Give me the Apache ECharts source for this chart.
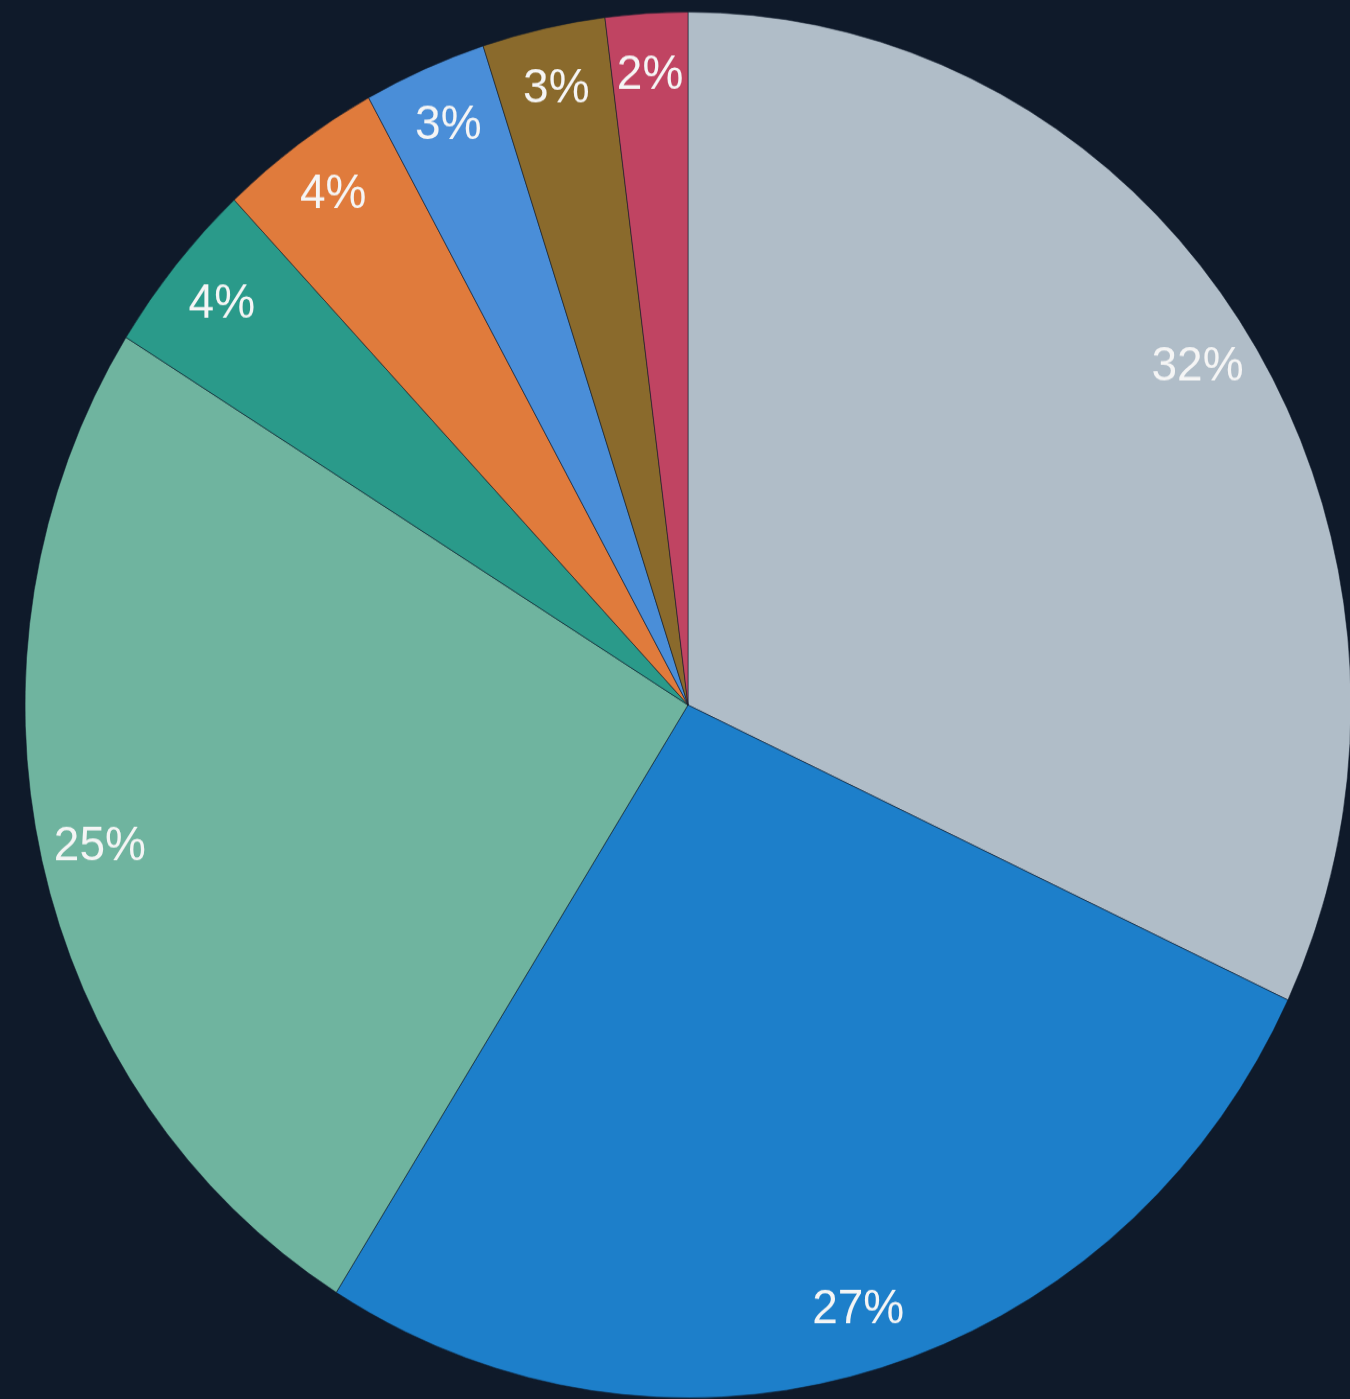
<!DOCTYPE html>
<html>
<head>
<meta charset="utf-8">
<script src="https://cdn.jsdelivr.net/npm/echarts@6/dist/echarts.min.js"></script>
<style>
  html, body { margin: 0; padding: 0; background: #0f1a2a; }
  body { width: 1350px; height: 1399px; overflow: visible; }
  #chart { width: 1350px; height: 1339px; transform: scaleY(1.0452); transform-origin: 0 0; }
</style>
</head>
<body>
<div id="chart"></div>
<script>
const categories = ['A', 'B', 'C', 'D', 'E', 'F', 'G', 'H'];
const values = [32.0, 26.9, 25.0, 4.1, 4.0, 3.0, 3.0, 2.0];
const colors = ['#b0bdc8', '#1d7fca', '#6fb49f', '#2a9a8a', '#e07b3c', '#4a8ed8', '#8a6a2c', '#c04462'];

const data = categories.map((c, i) => ({ name: c, value: values[i] }));

const chart = echarts.init(document.getElementById('chart'), null, { renderer: 'canvas' });
chart.setOption({
  backgroundColor: '#0f1a2a',
  color: colors,
  animation: false,
  series: [
    {
      type: 'pie',
      center: [688, 674.5],
      radius: [0, 663],
      startAngle: 90,
      clockwise: true,
      silent: true,
      data: data,
      itemStyle: { borderColor: 'rgba(15,26,42,0.55)', borderWidth: 1 },
      label: { show: false },
      labelLine: { show: false }
    },
    {
      type: 'pie',
      center: [688, 674.5],
      radius: [538, 663],
      startAngle: 90,
      clockwise: true,
      silent: true,
      data: data,
      itemStyle: { color: 'rgba(0,0,0,0)', borderWidth: 0 },
      label: {
        show: true,
        position: 'inside',
        color: '#f5f5f5',
        fontFamily: 'Liberation Sans, Arial, sans-serif',
        fontSize: 46,
        formatter: p => Math.round(p.percent) + '%'
      },
      labelLine: { show: false }
    }
  ]
});
</script>
</body>
</html>
